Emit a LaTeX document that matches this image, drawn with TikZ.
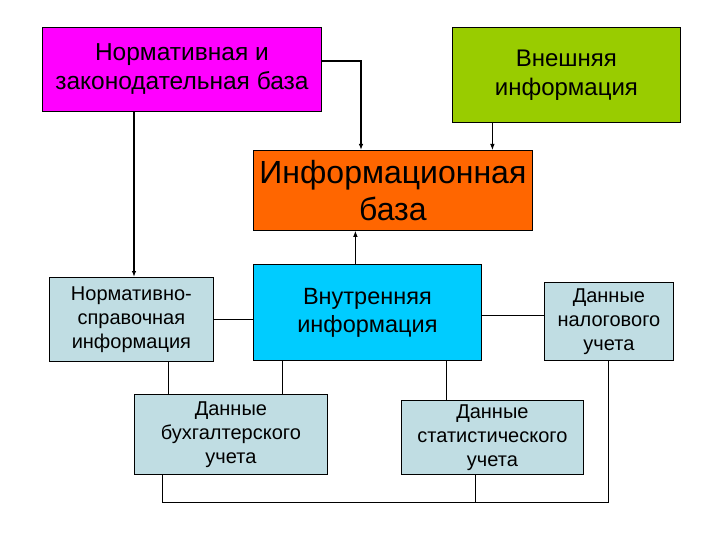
\documentclass[tikz,border=0pt]{standalone}
\usepackage{fontspec}
\setmainfont{Liberation Sans}
\usetikzlibrary{arrows.meta,positioning,calc}
\definecolor{normmag}{HTML}{FF00FF}
\definecolor{extgreen}{HTML}{99CC00}
\definecolor{baseorange}{HTML}{FF6600}
\definecolor{intcyan}{HTML}{00CCFF}
\definecolor{datagray}{HTML}{C0DDE3}

\begin{document}
\begin{tikzpicture}[x=1pt, y=-1pt, >={Latex[length=6pt,width=4.5pt]},
    box/.style={draw, line width=0.8pt, align=center, anchor=north west, inner sep=1pt},
    small/.style={font=\fontsize{20}{24}\selectfont},
    link/.style={line width=0.9pt},
    heavy/.style={line width=2pt}]
\useasboundingbox (0,0) rectangle (720,540);
% top row
\node[box, fill=normmag, minimum width=279pt, minimum height=84pt, font=\fontsize{24.5}{29}\selectfont] (nzb) at (42,27) {Нормативная и\\законодательная база};
\node[box, fill=extgreen, minimum width=228pt, minimum height=95pt, font=\fontsize{24}{29}\selectfont] (vi) at (452,27) {Внешняя\\информация};
% centre
\node[box, fill=baseorange, minimum width=279pt, minimum height=80pt, font=\fontsize{32}{37}\selectfont] (ib) at (253,150) {Информационная\\база};
\node[box, fill=intcyan, minimum width=228pt, minimum height=96pt, font=\fontsize{23.5}{28}\selectfont] (vn) at (253,264) {Внутренняя\\информация};
% data boxes
\node[box, small, fill=datagray, minimum width=164pt, minimum height=84pt] (nsi) at (49,277) {Нормативно-\\справочная\\информация};
\node[box, small, fill=datagray, minimum width=129pt, minimum height=78pt] (nal) at (544,282) {Данные\\налогового\\учета};
\node[box, small, fill=datagray, minimum width=193pt, minimum height=80pt] (buh) at (134,394) {Данные\\бухгалтерского\\учета};
\node[box, small, fill=datagray, minimum width=182pt, minimum height=74pt] (stat) at (401,400) {Данные\\статистического\\учета};

% arrows into the base
\coordinate (nsi-in) at ([xshift=2.6pt]nsi.north);
\draw[heavy,->] (nzb.south -| nsi-in) -- (nsi-in);
\draw[heavy,->] ([yshift=8pt]nzb.east) -| ([xshift=108pt]ib.north west);
\coordinate (vi-out) at ([xshift=-74pt]vi.south);
\draw[link,->] (vi-out) -- (vi-out |- ib.north);
\coordinate (vn-up) at ([xshift=-12pt]vn.north);
\draw[link,->] (vn-up) -- (vn-up |- ib.south);

% plain links
\draw[link] (nsi.east) -- (nsi.east -| vn.west);
\draw[link] ([yshift=-3pt]vn.east) -- ([yshift=-3pt]vn.east -| nal.west);
\coordinate (nsi-down) at ([xshift=37pt]nsi.south);
\draw[link] (nsi-down) -- (nsi-down |- buh.north);
\coordinate (vn-left) at ([xshift=29pt]vn.south west);
\draw[link] (vn-left) -- (vn-left |- buh.north);
\coordinate (vn-right) at ([xshift=-35pt]vn.south east);
\draw[link] (vn-right) -- (vn-right |- stat.north);

% bottom bus
\coordinate (buh-down) at ([xshift=28pt]buh.south west);
\coordinate (bus) at (0,502);
\draw[link] (buh-down) -- (buh-down |- bus) -| (nal.south);
\coordinate (stat-down) at ([xshift=-17pt]stat.south);
\draw[link] (stat-down) -- (stat-down |- bus);
\end{tikzpicture}
\end{document}
